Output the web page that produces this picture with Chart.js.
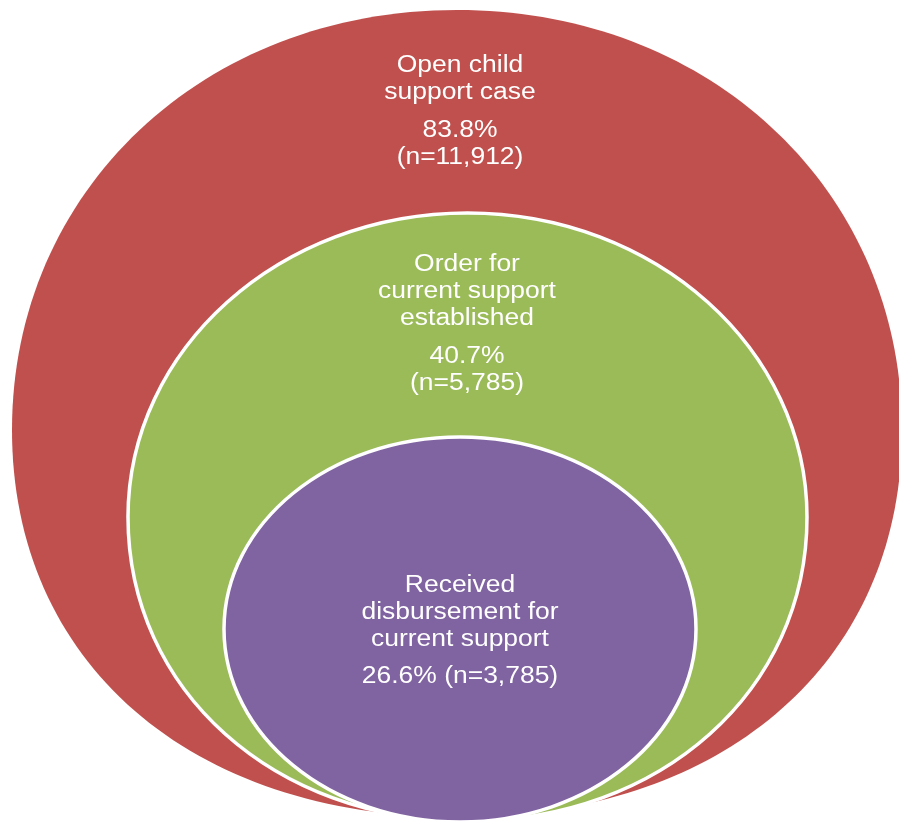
<!DOCTYPE html>
<html>
<head>
<meta charset="utf-8">
<script src="https://cdn.jsdelivr.net/npm/chart.js@4/dist/chart.umd.min.js"></script>
<style>
html,body{margin:0;padding:0;background:#ffffff;overflow:hidden}
#wrap{width:899px;height:823px}
</style>
</head>
<body>
<div id="wrap"><canvas id="c" width="899" height="823"></canvas></div>
<script>
// ---- Data ----
const categories = [
  ['Open child', 'support case'],
  ['Order for', 'current support', 'established'],
  ['Received', 'disbursement for', 'current support']
];
const percents = [83.8, 40.7, 26.6];
const counts = [11912, 5785, 3785];

// ---- Layout (diagram geometry in axis units, styles) ----
const colors = ['#C0504D', '#9BBB59', '#8064A2'];
const borderWidths = [0, 3.5, 3.5];
const centersX = [457, 467.5, 460];
const centersY = [430, 517, 629];
const radiiX = [445, 339.5, 236];
const radiiTop = [420, 304, 192];
const radiiBottom = [387, 304, 193];
const fullTop = [0.57, 0.5523, 0.5523];
const fullBottom = [0.6, 0.57, 0.5523];
const textCenterX = [460, 467, 460];
const firstBaseline = [72, 271, 592];
const valueBaseline = [137, 363, 683];
const valueInline = [false, false, true];
const lineHeight = 27;

const fmt = n => n.toLocaleString('en-US');

const ellipsePlugin = {
  id: 'nestedEllipses',
  beforeDatasetsDraw(chart) {
    const ctx = chart.ctx, xs = chart.scales.x, ys = chart.scales.y;
    chart.data.datasets.forEach((ds, i) => {
      const p = ds.data[0];
      const cx = xs.getPixelForValue(p.x), cy = ys.getPixelForValue(p.y);
      const rx = Math.abs(xs.getPixelForValue(p.x + ds.rx) - cx);
      const top = ys.getPixelForValue(p.y - ds.ryTop);
      const bot = ys.getPixelForValue(p.y + ds.ryBottom);
      const rt = cy - top, rb = bot - cy;
      const kt = ds.kTop, kb = ds.kBottom;
      ctx.save();
      ctx.beginPath();
      ctx.moveTo(cx, top);
      ctx.bezierCurveTo(cx + kt * rx, top, cx + rx, cy - kt * rt, cx + rx, cy);
      ctx.bezierCurveTo(cx + rx, cy + kb * rb, cx + kb * rx, bot, cx, bot);
      ctx.bezierCurveTo(cx - kb * rx, bot, cx - rx, cy + kb * rb, cx - rx, cy);
      ctx.bezierCurveTo(cx - rx, cy - kt * rt, cx - kt * rx, top, cx, top);
      ctx.closePath();
      ctx.fillStyle = ds.backgroundColor;
      ctx.fill();
      if (ds.borderWidth > 0) {
        ctx.lineWidth = ds.borderWidth;
        ctx.strokeStyle = '#ffffff';
        ctx.stroke();
      }
      ctx.restore();
    });
  },
  afterDatasetsDraw(chart) {
    const ctx = chart.ctx, xs = chart.scales.x, ys = chart.scales.y;
    ctx.save();
    ctx.fillStyle = '#ffffff';
    ctx.font = "23px 'Liberation Sans', Arial, sans-serif";
    ctx.textAlign = 'center';
    ctx.textBaseline = 'alphabetic';
    const put = (t, x, y) => {
      ctx.save();
      ctx.translate(xs.getPixelForValue(x), ys.getPixelForValue(y));
      ctx.scale(1.15, 1);
      ctx.fillText(t, 0, 0);
      ctx.restore();
    };
    chart.data.datasets.forEach((ds, i) => {
      const x = textCenterX[i];
      ds.labelLines.forEach((t, k) => put(t, x, firstBaseline[i] + k * lineHeight));
      const pctTxt = percents[i] + '%';
      const nTxt = '(n=' + fmt(counts[i]) + ')';
      if (valueInline[i]) {
        put(pctTxt + ' ' + nTxt, x, valueBaseline[i]);
      } else {
        put(pctTxt, x, valueBaseline[i]);
        put(nTxt, x, valueBaseline[i] + lineHeight);
      }
    });
    ctx.restore();
  }
};

new Chart(document.getElementById('c'), {
  type: 'scatter',
  data: {
    datasets: categories.map((lines, i) => ({
      label: lines.join(' '),
      labelLines: lines,
      data: [{ x: centersX[i], y: centersY[i] }],
      rx: radiiX[i],
      ryTop: radiiTop[i],
      ryBottom: radiiBottom[i],
      kTop: fullTop[i],
      kBottom: fullBottom[i],
      backgroundColor: colors[i],
      borderWidth: borderWidths[i],
      pointRadius: 0,
      pointHoverRadius: 0
    }))
  },
  options: {
    responsive: false,
    animation: false,
    events: [],
    layout: { padding: 0 },
    plugins: { legend: { display: false }, tooltip: { enabled: false } },
    scales: {
      x: { type: 'linear', min: 0, max: 899, display: false },
      y: { type: 'linear', min: 0, max: 823, reverse: true, display: false }
    }
  },
  plugins: [ellipsePlugin]
});
</script>
</body>
</html>
